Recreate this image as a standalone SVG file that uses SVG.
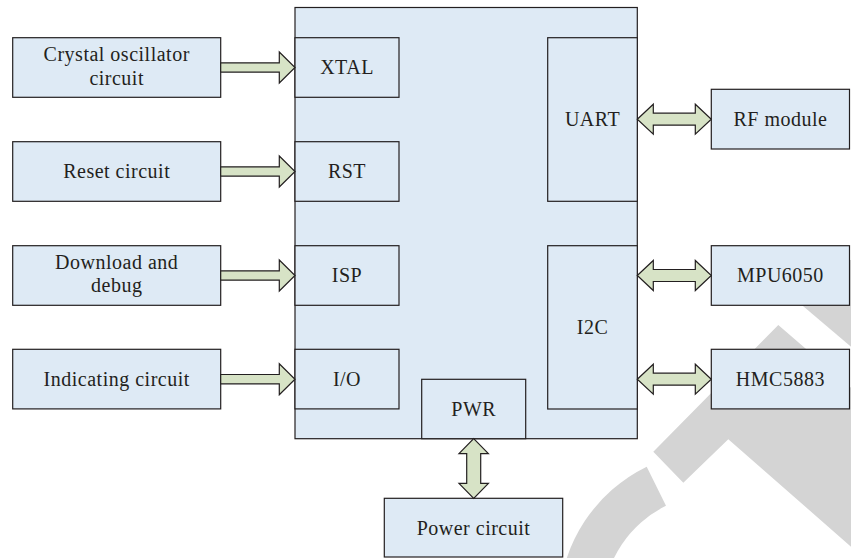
<svg xmlns="http://www.w3.org/2000/svg" width="851" height="558" viewBox="0 0 851 558">
<style>
.box{fill:#deeaf5;stroke:#231f20;stroke-width:1.2}
.arr{fill:#d7e3c6;stroke:#231f20;stroke-width:1.2;stroke-linejoin:miter}
.wm{fill:#d4d4d4;stroke:none}
text{font-family:'Liberation Serif','Times New Roman',serif;font-size:20px;letter-spacing:0.5px;fill:#231f20;text-anchor:middle}
</style>
<rect width="851" height="558" fill="#ffffff"/>
<g id="watermark">
<polygon class="wm" points="790,295.1 880,371.2 880,260 800,260"/>
<polygon class="wm" points="778.3,325 900,430 900,589.5 728.3,439.3 683.3,482.7 653.3,451.7"/>
<path class="wm" d="M646.7,466.7 A157,157 0 0 0 558.9,600 L602.9,600 A113,113 0 0 1 666,505.8 Z"/>
</g>
<g id="mcu"><rect class="box" x="295" y="7.5" width="342.3" height="431.2"/></g>
<g id="xtal"><rect class="box" x="295" y="37.7" width="104" height="59.6"/><text x="347" y="74">XTAL</text></g>
<g id="rst"><rect class="box" x="295" y="141.7" width="104" height="59.6"/><text x="347" y="178">RST</text></g>
<g id="isp"><rect class="box" x="295" y="245.7" width="104" height="59.6"/><text x="347" y="282">ISP</text></g>
<g id="io"><rect class="box" x="295" y="349.3" width="104" height="59.6"/><text x="347" y="385.7">I/O</text></g>
<g id="uart"><rect class="box" x="547.7" y="37.7" width="89.6" height="163.6"/><text x="592.5" y="125.5">UART</text></g>
<g id="i2c"><rect class="box" x="547.7" y="245.7" width="89.6" height="163.3"/><text x="592.5" y="333.8">I2C</text></g>
<g id="pwr"><rect class="box" x="421.7" y="379.3" width="104" height="59.4"/><text x="473.7" y="415.5">PWR</text></g>
<g id="crystal"><rect class="box" x="12.7" y="37.7" width="208" height="59.6"/><text x="116.7" y="61">Crystal oscillator</text><text x="116.7" y="85">circuit</text></g>
<g id="reset"><rect class="box" x="12.7" y="141.7" width="208" height="59.6"/><text x="116.7" y="178">Reset circuit</text></g>
<g id="download"><rect class="box" x="12.7" y="245.7" width="208" height="59.6"/><text x="116.7" y="268.5">Download and</text><text x="116.7" y="292">debug</text></g>
<g id="indicating"><rect class="box" x="12.7" y="349.3" width="208" height="59.6"/><text x="116.7" y="385.7">Indicating circuit</text></g>
<g id="rf"><rect class="box" x="711.3" y="89.3" width="138.2" height="59.7"/><text x="780.4" y="125.7">RF module</text></g>
<g id="mpu"><rect class="box" x="711.3" y="245.7" width="138.2" height="59.6"/><text x="780.4" y="282">MPU6050</text></g>
<g id="hmc"><rect class="box" x="711.3" y="349.3" width="138.2" height="59.6"/><text x="780.4" y="385.7">HMC5883</text></g>
<g id="power"><rect class="box" x="384.3" y="498.3" width="178.4" height="58.7"/><text x="473.5" y="534.5">Power circuit</text></g>
<g id="connectors">
<path class="arr" d="M220.7,62.8 H279.3 V52 L295,67.5 L279.3,83 V72.2 H220.7 Z"/>
<path class="arr" d="M220.7,166.8 H279.3 V156 L295,171.5 L279.3,187 V176.2 H220.7 Z"/>
<path class="arr" d="M220.7,270.8 H279.3 V260 L295,275.5 L279.3,291 V280.2 H220.7 Z"/>
<path class="arr" d="M220.7,374.5 H279.3 V363.7 L295,379.2 L279.3,394.7 V383.9 H220.7 Z"/>
<path class="arr" d="M637.3,119.2 L653.3,104.2 V113.2 H695.3 V104.2 L711.3,119.2 L695.3,134.2 V125.2 H653.3 V134.2 Z"/>
<path class="arr" d="M637.3,275.5 L653.3,260.5 V269.5 H695.3 V260.5 L711.3,275.5 L695.3,290.5 V281.5 H653.3 V290.5 Z"/>
<path class="arr" d="M637.3,379.2 L653.3,364.2 V373.2 H695.3 V364.2 L711.3,379.2 L695.3,394.2 V385.2 H653.3 V394.2 Z"/>
<path class="arr" d="M473.7,438.7 L488.4,453.7 H480.7 V483.3 H488.4 L473.7,498.3 L459,483.3 H466.7 V453.7 H459 Z"/>
</g>
</svg>
